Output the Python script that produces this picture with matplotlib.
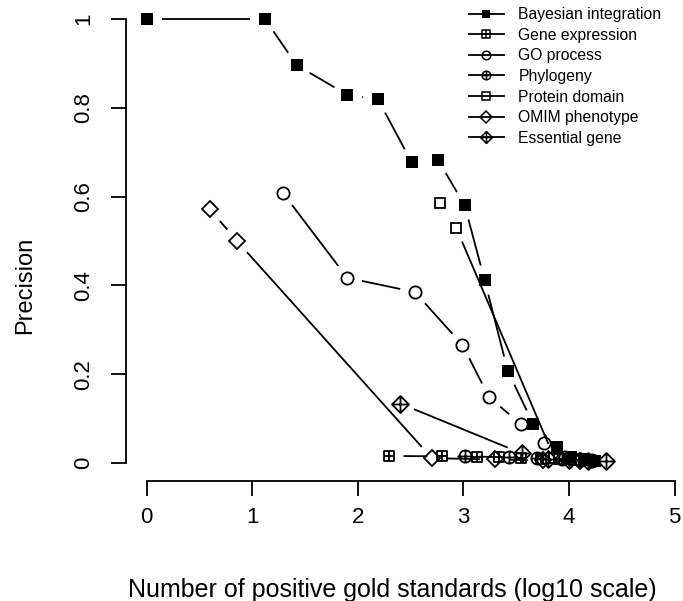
import numpy as np
import matplotlib
matplotlib.use("Agg")
import matplotlib.pyplot as plt
from matplotlib.path import Path
from matplotlib.lines import Line2D

plt.rcParams['font.family'] = ['Liberation Sans', 'DejaVu Sans']

# Valores (x en escala log10, y = precision)
bayes_x = [0.0, 1.12, 1.42, 1.90, 2.19, 2.51, 2.76, 3.01, 3.20, 3.42, 3.66, 3.89, 4.02, 4.14, 4.25]
bayes_y = [1.0, 1.0, 0.896, 0.829, 0.819, 0.677, 0.682, 0.581, 0.412, 0.207, 0.088, 0.036, 0.014, 0.008, 0.005]

gene_x = [2.29, 2.80, 3.13, 3.34, 3.54, 3.73, 3.90, 4.05, 4.18]
gene_y = [0.016, 0.015, 0.014, 0.013, 0.012, 0.010, 0.009, 0.007, 0.006]

go_x = [1.29, 1.90, 2.54, 2.99, 3.24, 3.54, 3.76, 3.96, 4.10, 4.22]
go_y = [0.608, 0.417, 0.385, 0.266, 0.149, 0.088, 0.045, 0.013, 0.008, 0.006]

phylo_x = [3.01, 3.43, 3.70, 3.93, 4.10, 4.22]
phylo_y = [0.015, 0.013, 0.011, 0.009, 0.007, 0.005]

protein_x = [2.78, 2.93, 3.86, 4.02, 4.16]
protein_y = [0.586, 0.530, 0.012, 0.008, 0.006]

omim_x = [0.60, 0.855, 2.70, 3.30, 3.75, 4.10]
omim_y = [0.571, 0.500, 0.011, 0.008, 0.006, 0.005]

essential_x = [2.40, 3.55, 3.80, 4.00, 4.18, 4.35]
essential_y = [0.134, 0.022, 0.010, 0.007, 0.005, 0.004]

etiquetas = ["Bayesian integration", "Gene expression", "GO process", "Phylogeny",
             "Protein domain", "OMIM phenotype", "Essential gene"]

M, L, C = Path.MOVETO, Path.LINETO, Path.CLOSEPOLY
cruz = Path([(-1, 0), (1, 0), (0, -1), (0, 1)], [M, L, M, L])
cuadrado_mas = Path([(-1, -1), (1, -1), (1, 1), (-1, 1), (-1, -1), (-1, 0), (1, 0), (0, -1), (0, 1)],
                    [M, L, L, L, C, M, L, M, L])
circulo_mas = Path.make_compound_path(Path.unit_circle(), cruz)
rombo_mas = Path([(0, -1), (1, 0), (0, 1), (-1, 0), (0, -1), (-1, 0), (1, 0), (0, -1), (0, 1)],
                 [M, L, L, L, C, M, L, M, L])

# (x, y, marcador, tamaño, relleno)
series = [
    (bayes_x, bayes_y, 's', 8.3, 'black'),
    (gene_x, gene_y, cuadrado_mas, 7.6, 'none'),
    (go_x, go_y, 'o', 8.8, 'none'),
    (phylo_x, phylo_y, circulo_mas, 8.8, 'none'),
    (protein_x, protein_y, 's', 7.8, 'none'),
    (omim_x, omim_y, 'D', 8.6, 'none'),
    (essential_x, essential_y, rombo_mas, 12.2, 'none'),
]


def linea_con_huecos(ax, xs, ys, gap=15):
    # Dibuja los segmentos dejando un hueco alrededor de cada punto (estilo type="b" de R)
    pts = ax.transData.transform(np.column_stack([xs, ys]))
    inv = ax.transData.inverted()
    for i in range(len(pts) - 1):
        d = pts[i + 1] - pts[i]
        largo = np.hypot(d[0], d[1])
        if largo <= 2 * gap:
            continue
        u = d / largo
        a = inv.transform(pts[i] + u * gap)
        b = inv.transform(pts[i + 1] - u * gap)
        ax.plot([a[0], b[0]], [a[1], b[1]], color='black', lw=1.3, solid_capstyle='butt')


fig = plt.figure(figsize=(6.83, 6.01), dpi=100)
ax = fig.add_axes([125.6 / 683, 1 - 480.8 / 601, 570.2 / 683, 479.6 / 601])
ax.set_xlim(-0.2, 5.2)
ax.set_ylim(-0.04, 1.04)

for xs, ys, mk, ms, fc in series:
    linea_con_huecos(ax, xs, ys)
    ew = 0 if fc == 'black' else 1.3
    ax.plot(xs, ys, linestyle='none', marker=mk, ms=ms, mfc=fc, mec='black', mew=ew)

# Ejes al estilo de R
ax.spines['top'].set_visible(False)
ax.spines['right'].set_visible(False)
ax.spines['left'].set_bounds(0, 1)
ax.spines['bottom'].set_bounds(0, 5)
ax.spines['left'].set_linewidth(1.3)
ax.spines['bottom'].set_linewidth(1.3)
ax.set_xticks([0, 1, 2, 3, 4, 5])
ax.set_yticks([0, 0.2, 0.4, 0.6, 0.8, 1.0], ["0", "0.2", "0.4", "0.6", "0.8", "1"])
ax.tick_params(length=10.8, width=1.3, labelsize=16)
ax.tick_params(axis='x', pad=8)
ax.tick_params(axis='y', pad=12, labelrotation=90)
for lbl in ax.get_yticklabels():
    lbl.set_va('center')

ax.set_xlabel("Number of positive gold standards (log10 scale)", fontsize=18)
ax.xaxis.set_label_coords(0.467, -0.203)
ax.set_ylabel("Precision", fontsize=17)
ax.yaxis.set_label_coords(-0.157, 0.408)

# Leyenda
manejadores = []
for xs, ys, mk, ms, fc in series:
    ew = 0 if fc == 'black' else 1.1
    manejadores.append(Line2D([], [], color='black', lw=1.3, marker=mk, ms=ms * 0.7,
                              mfc=fc, mec='black', mew=ew))
ax.legend(manejadores, etiquetas, loc='upper left', bbox_to_anchor=(469 / 683, 1 - 7 / 601),
          bbox_transform=fig.transFigure, frameon=False, fontsize=11.3, handlelength=2.2,
          handletextpad=0.95, labelspacing=0.36, borderpad=0, borderaxespad=0)

fig.savefig("out.png", dpi=100)
